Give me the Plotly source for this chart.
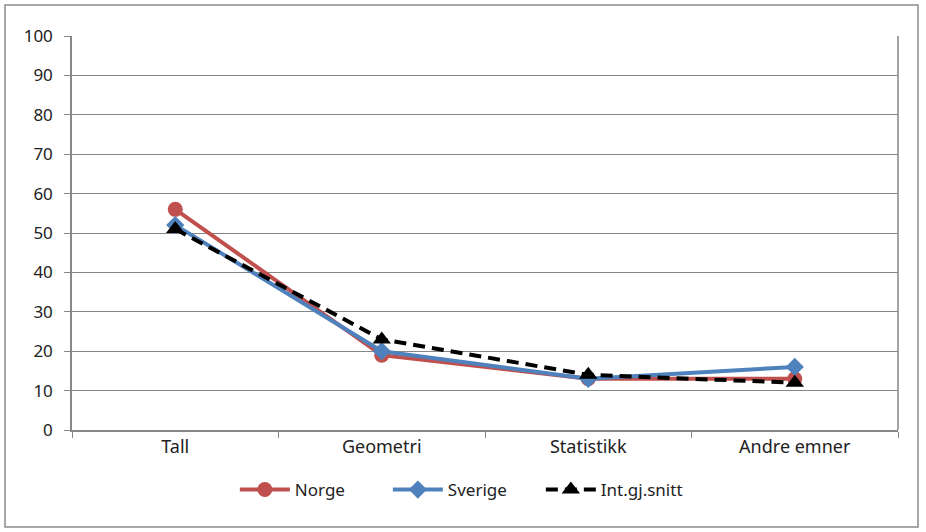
import plotly.graph_objects as go

categories = ["Tall", "Geometri", "Statistikk", "Andre emner"]
norge = [56, 19, 13, 13]
sverige = [52, 20, 13, 16]
int_snitt = [51, 23, 14, 12]
y_ticks = [0, 10, 20, 30, 40, 50, 60, 70, 80, 90, 100]

fig = go.Figure()
fig.add_trace(go.Scatter(x=categories, y=norge, name="Norge", mode="lines+markers",
                         line=dict(color="#C0504D", width=4),
                         marker=dict(symbol="circle", size=15, color="#C0504D")))
fig.add_trace(go.Scatter(x=categories, y=sverige, name="Sverige", mode="lines+markers",
                         line=dict(color="#4F81BD", width=4),
                         marker=dict(symbol="diamond", size=14, color="#4F81BD")))
fig.add_trace(go.Scatter(x=categories, y=int_snitt, name="Int.gj.snitt", mode="lines+markers",
                         line=dict(color="black", width=4, dash="12px,7px"),
                         marker=dict(symbol="triangle-up", size=16, color="black")))

L, R, T, B = 72, 28, 36, 102
pw, ph = 926 - L - R, 532 - T - B

fig.update_layout(
    width=926, height=532,
    margin=dict(l=L, r=R, t=T, b=B, autoexpand=False),
    paper_bgcolor="white", plot_bgcolor="white",
    font=dict(family="Noto Sans, Open Sans, sans-serif", size=16, color="#222"),
    showlegend=True,
    legend=dict(orientation="h", x=0.475, xanchor="center", yref="container",
                y=(532 - 490) / 532, yanchor="middle",
                font=dict(size=17), itemwidth=50, entrywidth=88,
                bgcolor="rgba(0,0,0,0)"),
    shapes=[dict(type="rect", xref="paper", yref="paper",
                 x0=-(L - 5) / pw, x1=(918 - L) / pw, y0=-(527 - (T + ph)) / ph, y1=(T + ph - 5) / ph,
                 line=dict(color="#8c8c8c", width=1.5), fillcolor="rgba(0,0,0,0)", layer="below")],
)
fig.update_xaxes(type="category", showgrid=False, showline=True, linecolor="#868686", linewidth=1.5,
                 ticks="outside", tickson="boundaries", ticklen=6, tickcolor="#868686",
                 tickfont=dict(size=18), mirror=False, range=[-0.5, 3.5])
fig.update_yaxes(range=[0, 100], tickvals=y_ticks, showgrid=True, gridcolor="#868686", gridwidth=1.2,
                 showline=True, linecolor="#868686", linewidth=1.5, ticks="outside", ticklen=6,
                 tickcolor="#868686", tickfont=dict(size=17), ticklabelstandoff=8, zeroline=False)

fig.add_shape(type="line", xref="paper", yref="paper", x0=1, x1=1, y0=0, y1=1,
              line=dict(color="#868686", width=1.5))

fig.write_html("out.html")
